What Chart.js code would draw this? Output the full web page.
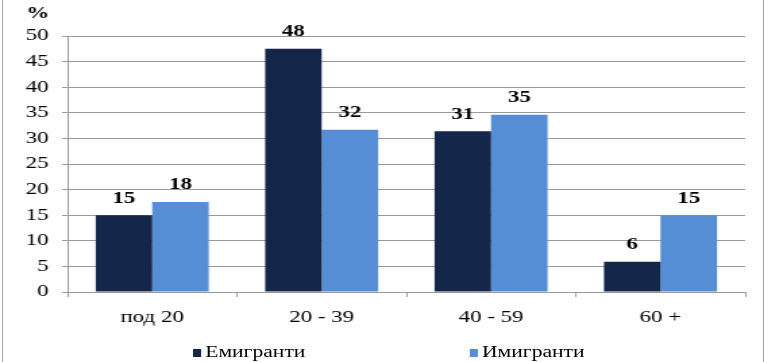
<!DOCTYPE html>
<html>
<head>
<meta charset="utf-8">
<script src="https://cdn.jsdelivr.net/npm/chart.js@4/dist/chart.umd.min.js"></script>
<style>
  html, body { margin: 0; padding: 0; background: #fff; }
  body { width: 765px; height: 362px; position: relative; overflow: hidden; }
  /* thin frame lines on the left and right, as in the source image */
  .frame { position: absolute; top: 0; bottom: 0; left: 2px; right: 1px;
           border-left: 1.5px solid #a6a6a6; border-right: 1.5px solid #a6a6a6; }
  /* the source picture is stretched sideways; draw narrow, then widen */
  #wrap { position: absolute; left: 0; top: 0; width: 567px; height: 362px;
          transform: scaleX(1.35); transform-origin: 0 0; }
  #legend { position: absolute; top: 342px; left: 0; width: 100%; height: 20px;
            font: 16px "Liberation Serif", "Times New Roman", serif; color: #000; }
  .item { position: absolute; top: 0; line-height: 20px; white-space: nowrap; }
  .swatch { display: inline-block; width: 6px; height: 8px; margin-right: 3px; vertical-align: 0; }
</style>
</head>
<body>
<div class="frame"></div>
<div id="wrap">
  <canvas id="chart"></canvas>
  <div id="legend"></div>
</div>
<script>
/* Age structure of emigrants and immigrants, % by age group. */

const CATEGORIES = ["под 20", "20 - 39", "40 - 59", "60 +"];
const EMIGRANTS = [15, 47.5, 31.4, 5.9];
const IMMIGRANTS = [17.6, 31.7, 34.6, 15];
const SERIES_NAMES = ["Емигранти", "Имигранти"];
const COLORS = ["#14274a", "#558ed5"];
const Y_TICKS = [0, 5, 10, 15, 20, 25, 30, 35, 40, 45, 50];

const FONT = "'Liberation Serif', 'Times New Roman', serif";
const GRID = "#9a9a9a";

// value labels above the bars, plus the "%" unit over the y axis
const barLabels = {
  id: "barLabels",
  afterDatasetsDraw(chart) {
    const ctx = chart.ctx;
    ctx.save();
    ctx.fillStyle = "#000";
    ctx.font = `bold 17px ${FONT}`;
    ctx.textAlign = "center";
    ctx.textBaseline = "middle";
    chart.data.datasets.forEach((ds, i) => {
      chart.getDatasetMeta(i).data.forEach((bar, j) => {
        ctx.fillText(String(Math.round(ds.data[j])), bar.x, bar.y - 17);
      });
    });
    const area = chart.chartArea;
    ctx.fillText("%", area.left - 22, area.top - 22);
    ctx.restore();
  },
};

new Chart(document.getElementById("chart"), {
  type: "bar",
  data: {
    labels: CATEGORIES,
    datasets: [
      { label: SERIES_NAMES[0], data: EMIGRANTS, backgroundColor: COLORS[0] },
      { label: SERIES_NAMES[1], data: IMMIGRANTS, backgroundColor: COLORS[1] },
    ],
  },
  options: {
    responsive: true,
    maintainAspectRatio: false,
    animation: false,
    datasets: { bar: { categoryPercentage: 0.667, barPercentage: 1 } },
    layout: { padding: { left: 0, right: 15, top: 36, bottom: 30 } },
    plugins: { legend: { display: false }, tooltip: { enabled: false } },
    scales: {
      x: {
        grid: { offset: true, drawOnChartArea: false, color: GRID, tickLength: 5 },
        border: { color: GRID },
        ticks: { color: "#000", font: { family: FONT, size: 17 }, padding: 10 },
        afterFit(s) { s.height = 40; },
      },
      y: {
        min: 0, max: 50,
        grid: { color: GRID, tickLength: 4 },
        border: { color: GRID },
        afterBuildTicks(s) { s.ticks = Y_TICKS.map(v => ({ value: v })); },
        ticks: { color: "#000", font: { family: FONT, size: 17 }, padding: 10 },
        afterFit(s) { s.width = 50; },
      },
    },
  },
  plugins: [barLabels],
});

// legend drawn as html so the two entries can sit far apart like the source
const legend = document.getElementById("legend");
const LEGEND_LEFT = [143, 348];
SERIES_NAMES.forEach((name, i) => {
  const item = document.createElement("span");
  item.className = "item";
  item.style.left = LEGEND_LEFT[i] + "px";
  item.innerHTML = `<span class="swatch" style="background:${COLORS[i]}"></span>${name}`;
  legend.appendChild(item);
});
</script>
</body>
</html>
